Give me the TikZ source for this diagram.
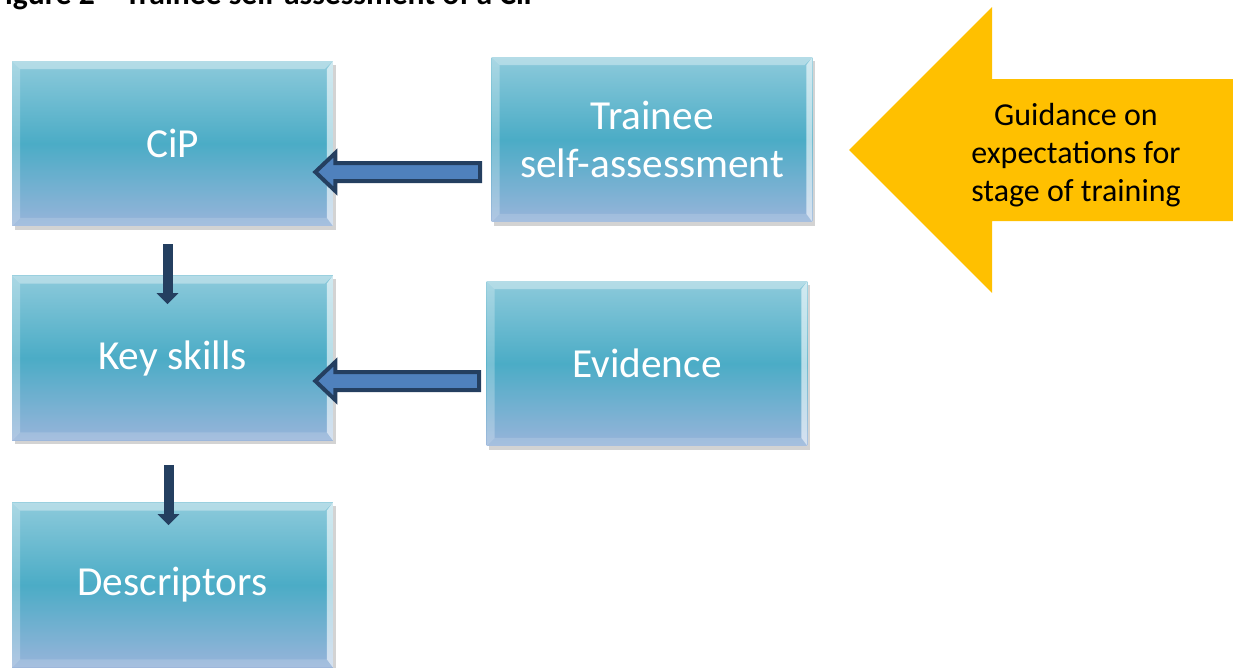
\documentclass[tikz,border=0pt]{standalone}
\usepackage{fontspec}
\setmainfont{Carlito}
\usetikzlibrary{positioning,calc,arrows.meta,shadows}
\definecolor{boxtop}{HTML}{8DCADB}
\definecolor{boxmid}{HTML}{4BACC6}
\definecolor{boxbot}{HTML}{98B4DA}
\definecolor{arrowdark}{HTML}{243F60}
\definecolor{arrowblue}{HTML}{4F81BD}
\definecolor{guideyellow}{HTML}{FFC000}
% left-pointing outlined block arrow: #1 = tail, #2 = tip
\newcommand{\blockleft}[2]{%
  \draw[blockarrow] (#2) -- ++(20,-19) -- ++(0,10) -- ($(#1)+(0,-9)$)
    -- ($(#1)+(0,9)$) -- ($(#2)+(20,9)$) -- ++(0,10) -- cycle;}
\begin{document}
\begin{tikzpicture}[x=0.02cm,y=-0.02cm,
    box/.style={minimum width=6.42cm, minimum height=3.3cm, align=center,
      text=white, font=\fontsize{23.5}{27.3}\selectfont,
      top color=boxtop, bottom color=boxbot, middle color=boxmid,
      drop shadow={shadow xshift=1.5pt, shadow yshift=-2pt, opacity=.35},
      path picture={
        \coordinate (nw) at (path picture bounding box.north west);
        \coordinate (ne) at (path picture bounding box.north east);
        \coordinate (sw) at (path picture bounding box.south west);
        \coordinate (se) at (path picture bounding box.south east);
        \fill[white, opacity=.35] (nw) -- (ne) -- ($(ne)+(-8,8)$) -- ($(nw)+(8,8)$) -- cycle;
        \fill[white, opacity=.25] (nw) -- ($(nw)+(8,8)$) -- ($(sw)+(8,-8)$) -- (sw) -- cycle;
        \fill[white, opacity=.6] (ne) -- (se) -- ($(se)+(-6,-8)$) -- ($(ne)+(-6,8)$) -- cycle;
        \fill[white, opacity=.15] (sw) -- (se) -- ($(se)+(-6,-8)$) -- ($(sw)+(8,-8)$) -- cycle;
      }},
    downarrow/.style={draw=arrowdark, line width=0.2cm,
      -{Triangle[width=0.42cm, length=0.22cm]}},
    blockarrow/.style={draw=arrowdark, fill=arrowblue, line width=0.08cm,
      line join=miter},
    guidetext/.style={align=center, font=\fontsize{18.2}{21.8}\selectfont},
    titletext/.style={font=\bfseries\fontsize{18}{21}\selectfont}]
  \useasboundingbox (0,0) rectangle (1233,667);
  \clip (0,0) rectangle (1233,667);
  \node[titletext, anchor=base east] (title) at (547,4)
    {Figure 2 -- Trainee self-assessment of a CiP};
  % boxes
  \node[box] (cip) at (172.5,143.5) {CiP};
  \node[box] (keys) at (172.5,358) {Key skills};
  \node[box] (desc) at (172.5,585) {Descriptors};
  \node[box] (trainee) at (652,139.5) {Trainee\\self-assessment};
  \node[box] (evid) at (647,363.5) {Evidence};
  % guidance arrow
  \fill[guideyellow] (849,150) -- (992,7) -- (992,79) -- (1240,79)
    -- (1240,221) -- (992,221) -- (992,293) -- cycle;
  \node[guidetext] (guide) at (1076,155)
    {Guidance on\\expectations for\\stage of training};
  % down arrows
  \draw[downarrow] ($(cip.south)+(-5,18)$) -- ($(keys.north)+(-5,29)$);
  \draw[downarrow] ($(keys.south)+(-4,24)$) -- ($(desc.north)+(-4,23)$);
  % side arrows
  \coordinate (tail1) at ($(trainee.west)+(-11,32.5)$);
  \coordinate (c1) at ($(cip.east)+(-18,0)$);
  \coordinate (tip1) at (c1 |- tail1);
  \blockleft{tail1}{tip1}
  \coordinate (tail2) at ($(evid.west)+(-7,17.5)$);
  \coordinate (c2) at ($(keys.east)+(-18,0)$);
  \coordinate (tip2) at (c2 |- tail2);
  \blockleft{tail2}{tip2}
\end{tikzpicture}
\end{document}
